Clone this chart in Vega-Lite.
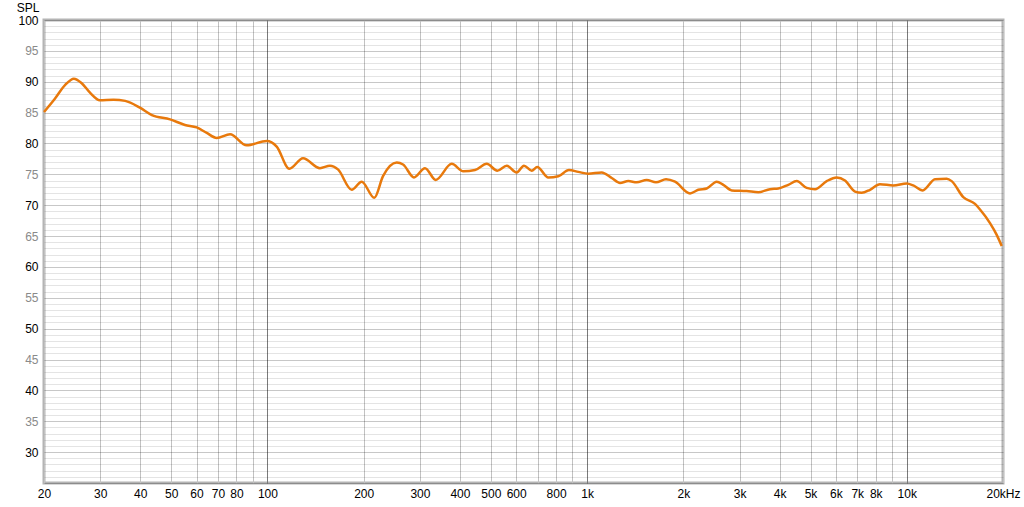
{
  "$schema": "https://vega.github.io/schema/vega-lite/v6.json",
  "width": 959,
  "height": 463,
  "autosize": "none",
  "padding": {"left": 44, "top": 20, "right": 21, "bottom": 24},
  "background": "white",
  "config": {
    "view": {"stroke": "#b4b4b4", "strokeWidth": 3},
    "font": "Liberation Sans"
  },
  "data": {
    "values": [
      {"f": 20, "spl": 85.1}, {"f": 21.6, "spl": 87.2}, {"f": 23.3, "spl": 89.5}, {"f": 24.8, "spl": 90.5},
      {"f": 26.2, "spl": 89.8}, {"f": 27.9, "spl": 88.2}, {"f": 29.9, "spl": 87.0}, {"f": 33.0, "spl": 87.1},
      {"f": 35.9, "spl": 86.9}, {"f": 39.9, "spl": 85.8}, {"f": 43.5, "spl": 84.6}, {"f": 49.6, "spl": 83.9},
      {"f": 55.2, "spl": 83.0}, {"f": 60.1, "spl": 82.6}, {"f": 64.6, "spl": 81.7}, {"f": 69.4, "spl": 80.9},
      {"f": 76.4, "spl": 81.5}, {"f": 86.1, "spl": 79.7}, {"f": 99.5, "spl": 80.4}, {"f": 106.9, "spl": 79.5},
      {"f": 117.1, "spl": 75.9}, {"f": 129.2, "spl": 77.6}, {"f": 146, "spl": 76.0}, {"f": 156.9, "spl": 76.4},
      {"f": 166.2, "spl": 75.8}, {"f": 183.5, "spl": 72.5}, {"f": 197.2, "spl": 73.8}, {"f": 215.9, "spl": 71.2},
      {"f": 229.9, "spl": 74.7}, {"f": 253.8, "spl": 76.9}, {"f": 265.6, "spl": 76.6}, {"f": 287.4, "spl": 74.5},
      {"f": 311.1, "spl": 76.0}, {"f": 336.1, "spl": 74.1}, {"f": 377.1, "spl": 76.7}, {"f": 410, "spl": 75.5},
      {"f": 446.1, "spl": 75.7}, {"f": 485.4, "spl": 76.7}, {"f": 523.6, "spl": 75.6}, {"f": 560.4, "spl": 76.4},
      {"f": 602.2, "spl": 75.3}, {"f": 634.7, "spl": 76.4}, {"f": 670.9, "spl": 75.6}, {"f": 698.5, "spl": 76.2},
      {"f": 756.2, "spl": 74.5}, {"f": 812.6, "spl": 74.7}, {"f": 877.6, "spl": 75.7}, {"f": 938.5, "spl": 75.4},
      {"f": 1008.9, "spl": 75.1}, {"f": 1110.9, "spl": 75.3}, {"f": 1194, "spl": 74.4}, {"f": 1267.7, "spl": 73.6},
      {"f": 1345.8, "spl": 73.9}, {"f": 1429.4, "spl": 73.7}, {"f": 1536, "spl": 74.1}, {"f": 1642.5, "spl": 73.7},
      {"f": 1765.4, "spl": 74.2}, {"f": 1884, "spl": 73.8}, {"f": 2098.6, "spl": 71.9}, {"f": 2228, "spl": 72.5},
      {"f": 2366.8, "spl": 72.7}, {"f": 2543.8, "spl": 73.8}, {"f": 2667.4, "spl": 73.3}, {"f": 2833.6, "spl": 72.4},
      {"f": 3156.6, "spl": 72.3}, {"f": 3432, "spl": 72.1}, {"f": 3734, "spl": 72.6}, {"f": 3964, "spl": 72.7},
      {"f": 4260, "spl": 73.3}, {"f": 4526, "spl": 73.9}, {"f": 4864, "spl": 72.8}, {"f": 5164, "spl": 72.6},
      {"f": 5618, "spl": 73.9}, {"f": 6036, "spl": 74.5}, {"f": 6408, "spl": 74.0}, {"f": 6888, "spl": 72.2},
      {"f": 7228, "spl": 72.0}, {"f": 7674, "spl": 72.5}, {"f": 8246, "spl": 73.4}, {"f": 9076, "spl": 73.2},
      {"f": 9994, "spl": 73.5}, {"f": 10480, "spl": 73.2}, {"f": 11216, "spl": 72.4}, {"f": 12256, "spl": 74.2},
      {"f": 13332, "spl": 74.3}, {"f": 13820, "spl": 73.9}, {"f": 15024, "spl": 71.3}, {"f": 16348, "spl": 70.2},
      {"f": 16948, "spl": 69.3}, {"f": 18212, "spl": 67.1}, {"f": 19114, "spl": 65.2}, {"f": 19816, "spl": 63.4}
    ]
  },
  "mark": {"type": "line", "interpolate": "monotone", "color": "#E8790C", "strokeWidth": 2.5},
  "encoding": {
    "x": {
      "field": "f",
      "type": "quantitative",
      "scale": {"type": "log", "domain": [20, 20000], "nice": false},
      "axis": {
        "title": null,
        "values": [20,30,40,50,60,70,80,90,100,200,300,400,500,600,700,800,900,1000,2000,3000,4000,5000,6000,7000,8000,9000,10000,20000],
        "labelExpr": "(datum.value==90||datum.value==700||datum.value==900||datum.value==9000) ? '' : (datum.value==20000 ? '20kHz' : (datum.value>=1000 ? (datum.value/1000)+'k' : ''+datum.value))",
        "grid": true,
        "gridColor": {"condition": {"test": "datum.value==100||datum.value==1000||datum.value==10000", "value": "#7a7a7a"}, "value": "#c2c2c2"},
        "gridWidth": 1,
        "ticks": false,
        "domain": false,
        "labelFont": "Liberation Sans",
        "labelFontSize": 12,
        "labelColor": "#000000",
        "labelPadding": 5,
        "labelOverlap": false,
        "labelFlush": false,
        "labelBound": false
      }
    },
    "y": {
      "field": "spl",
      "type": "quantitative",
      "scale": {"domain": [25, 100], "nice": false, "zero": false},
      "axis": {
        "title": "SPL",
        "titleAngle": 0,
        "titleAlign": "right",
        "titleBaseline": "alphabetic",
        "titleX": -5,
        "titleY": -9,
        "titleFont": "Liberation Sans",
        "titleFontSize": 12,
        "titleFontWeight": "normal",
        "titleColor": "#000000",
        "values": [25,26,27,28,29,30,31,32,33,34,35,36,37,38,39,40,41,42,43,44,45,46,47,48,49,50,51,52,53,54,55,56,57,58,59,60,61,62,63,64,65,66,67,68,69,70,71,72,73,74,75,76,77,78,79,80,81,82,83,84,85,86,87,88,89,90,91,92,93,94,95,96,97,98,99,100],
        "labelExpr": "(datum.value % 5 == 0 && datum.value > 25) ? datum.label : ''",
        "grid": true,
        "gridColor": "#000000",
        "gridOpacity": {"condition": {"test": "datum.value % 5 == 0", "value": 0.22}, "value": 0.105},
        "ticks": false,
        "domain": false,
        "labelFont": "Liberation Sans",
        "labelFontSize": 12,
        "labelColor": {"condition": {"test": "datum.value % 10 == 0", "value": "#000000"}, "value": "#8a8a8a"},
        "labelPadding": 6,
        "labelOverlap": false,
        "labelFlush": false,
        "labelBound": false
      }
    }
  }
}
